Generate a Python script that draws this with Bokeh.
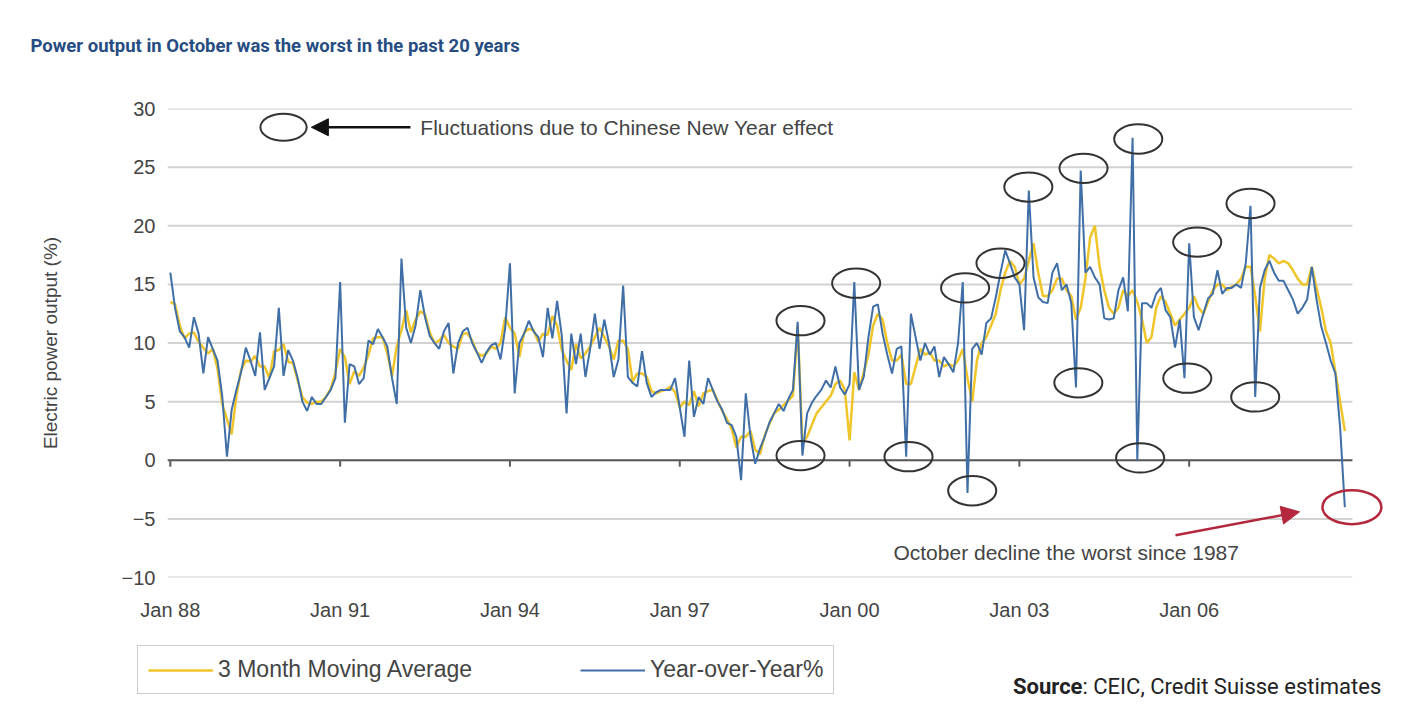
from bokeh.plotting import figure
from bokeh.layouts import column
from bokeh.models import (Range1d, FixedTicker, Legend, LegendItem, Label, Arrow,
                          NormalHead, ColumnDataSource)
from bokeh.embed import file_html
from bokeh.resources import INLINE

# ---------------- data (monthly, Jan 1988 - Oct 2008) ----------------
yoy_1988 = [16.0, 13.0, 11.0, 10.5, 9.6, 12.2, 10.8, 7.4, 10.5, 9.5, 8.5, 5.5]
yoy_1989 = [0.3, 4.3, 6.0, 7.5, 9.6, 8.5, 7.2, 10.9, 6.0, 7.0, 8.0, 13.0]
yoy_1990 = [7.2, 9.4, 8.5, 7.0, 5.0, 4.2, 5.4, 4.8, 4.8, 5.4, 6.0, 7.0]
yoy_1991 = [15.2, 3.2, 8.2, 8.0, 6.5, 7.0, 10.2, 9.9, 11.2, 10.5, 9.7, 7.0]
yoy_1992 = [4.8, 17.2, 11.3, 10.0, 11.5, 14.5, 12.2, 10.6, 10.0, 9.5, 11.0, 11.7]
yoy_1993 = [7.4, 10.0, 11.0, 11.3, 10.0, 9.2, 8.3, 9.2, 9.8, 10.0, 8.6, 11.3]
yoy_1994 = [16.8, 5.7, 10.0, 10.8, 11.9, 11.0, 10.5, 8.8, 13.0, 10.4, 13.6, 10.6]
yoy_1995 = [4.0, 10.8, 8.2, 10.8, 7.1, 9.5, 12.5, 9.5, 12.0, 10.0, 7.1, 8.6]
yoy_1996 = [14.9, 7.1, 6.6, 6.3, 9.3, 6.6, 5.4, 5.8, 6.0, 6.0, 6.0, 7.0]
yoy_1997 = [4.5, 2.0, 8.5, 3.7, 5.4, 4.8, 7.0, 6.0, 5.0, 4.3, 3.2, 3.0]
yoy_1998 = [2.0, -1.7, 5.7, 2.0, -0.3, 1.0, 2.0, 3.2, 4.0, 4.8, 4.2, 5.2]
yoy_1999 = [6.0, 11.8, 0.4, 4.0, 4.9, 5.5, 6.0, 6.8, 6.2, 8.0, 6.2, 5.6]
yoy_2000 = [6.5, 15.2, 6.0, 7.1, 10.5, 13.1, 13.3, 10.8, 9.0, 7.4, 9.5, 9.7]
yoy_2001 = [0.3, 12.5, 10.5, 8.5, 10.0, 9.0, 9.7, 7.1, 8.8, 8.2, 7.5, 10.0]
yoy_2002 = [15.2, -2.8, 9.5, 10.0, 9.0, 11.7, 12.1, 13.9, 16.0, 17.9, 16.8, 15.6]
yoy_2003 = [15.0, 11.1, 23.0, 15.6, 13.9, 13.5, 13.4, 16.0, 16.8, 14.5, 15.0, 13.4]
yoy_2004 = [6.2, 24.7, 16.0, 16.5, 15.6, 15.0, 12.1, 12.0, 12.1, 14.5, 15.6, 12.7]
yoy_2005 = [27.5, 0.0, 13.4, 13.4, 13.0, 14.2, 14.7, 12.8, 12.2, 9.6, 12.0, 7.0]
yoy_2006 = [18.5, 12.2, 11.1, 12.5, 13.8, 14.2, 16.2, 14.2, 14.7, 14.7, 15.0, 14.7]
yoy_2007 = [16.8, 21.7, 5.4, 14.7, 16.2, 17.0, 16.0, 15.3, 15.3, 14.5, 13.7, 12.5]
yoy_2008 = [13.0, 13.7, 16.5, 13.7, 11.4, 10.0, 8.5, 7.4, 2.8, -4.0]

ma_1988 = [13.5, 13.3, 11.5, 10.4, 10.8, 10.9, 10.1, 9.6, 9.1, 9.5, 7.8, 4.8]
ma_1989 = [3.5, 2.2, 5.5, 7.7, 8.5, 8.4, 8.9, 8.0, 8.0, 7.0, 9.3, 9.4]
ma_1990 = [9.9, 8.4, 8.3, 6.8, 5.4, 4.9, 4.8, 5.0, 5.0, 5.4, 6.1, 7.5]
ma_1991 = [9.5, 8.8, 6.5, 7.6, 7.2, 7.9, 9.0, 10.4, 10.5, 10.5, 9.1, 7.2]
ma_1992 = [9.7, 11.1, 12.8, 10.9, 12.0, 12.7, 12.4, 10.9, 10.0, 10.2, 10.7, 10.0]
ma_1993 = [9.7, 9.5, 10.8, 10.8, 10.2, 9.2, 8.9, 9.1, 9.7, 9.5, 10.0, 12.2]
ma_1994 = [11.3, 10.8, 8.8, 10.9, 11.2, 11.1, 10.1, 10.8, 10.7, 12.3, 11.5, 9.4]
ma_1995 = [8.5, 7.7, 9.9, 8.7, 9.1, 9.7, 10.5, 11.3, 10.5, 9.7, 8.6, 10.2]
ma_1996 = [10.2, 9.5, 6.7, 7.4, 7.4, 7.1, 5.9, 5.7, 5.9, 6.0, 6.3, 5.8]
ma_1997 = [4.5, 5.0, 4.7, 5.9, 4.6, 5.7, 5.9, 6.0, 5.1, 4.2, 3.5, 2.7]
ma_1998 = [1.1, 2.0, 2.0, 2.5, 0.9, 0.5, 2.1, 3.1, 4.0, 4.3, 4.7, 5.1]
ma_1999 = [5.5, 11.5, 1.5, 2.0, 3.0, 4.0, 4.5, 5.0, 5.5, 6.5, 6.8, 6.0]
ma_2000 = [1.7, 7.5, 6.0, 7.5, 9.0, 11.5, 12.5, 12.0, 10.0, 8.5, 8.5, 9.0]
ma_2001 = [6.5, 6.5, 8.0, 9.5, 9.0, 9.2, 8.5, 8.5, 8.0, 8.2, 8.0, 8.5]
ma_2002 = [9.5, 7.0, 5.0, 8.5, 10.0, 10.5, 11.5, 12.5, 14.5, 16.0, 17.0, 16.5]
ma_2003 = [15.0, 15.5, 17.0, 18.5, 16.0, 14.0, 14.0, 14.5, 15.5, 15.5, 14.5, 14.0]
ma_2004 = [12.0, 13.0, 15.5, 19.0, 20.0, 16.5, 14.5, 13.0, 12.5, 13.0, 14.5, 14.0]
ma_2005 = [14.5, 13.5, 12.0, 10.0, 10.5, 13.0, 14.0, 13.5, 12.5, 11.5, 12.0, 12.5]
ma_2006 = [13.0, 14.0, 13.0, 12.5, 13.5, 14.5, 15.0, 15.0, 14.5, 14.8, 15.0, 15.5]
ma_2007 = [16.5, 16.5, 14.0, 11.0, 15.5, 17.5, 17.2, 16.8, 17.0, 16.8, 16.2, 15.5]
ma_2008 = [15.0, 15.0, 16.5, 14.7, 13.0, 11.0, 10.0, 7.5, 5.0, 2.5]

tick_labels = ["Jan 88", "Jan 91", "Jan 94", "Jan 97", "Jan 00", "Jan 03", "Jan 06"]
y_ticks = [-10, -5, 0, 5, 10, 15, 20, 25, 30]

# circled Chinese New Year fluctuations (month index, value)
circle_month = [133.6, 133.6, 145.4, 156.5, 168.5, 170.0, 176.0, 181.9,
                193.6, 192.5, 205.2, 205.6, 217.7, 215.6, 229.0, 230.0]
circle_value = [11.9, 0.4, 15.1, 0.3, 14.7, -2.6, 16.8, 23.3,
                24.9, 6.6, 27.4, 0.2, 18.6, 7.0, 21.9, 5.4]

yoy = (yoy_1988 + yoy_1989 + yoy_1990 + yoy_1991 + yoy_1992 + yoy_1993 + yoy_1994 +
       yoy_1995 + yoy_1996 + yoy_1997 + yoy_1998 + yoy_1999 + yoy_2000 + yoy_2001 +
       yoy_2002 + yoy_2003 + yoy_2004 + yoy_2005 + yoy_2006 + yoy_2007 + yoy_2008)
ma3 = (ma_1988 + ma_1989 + ma_1990 + ma_1991 + ma_1992 + ma_1993 + ma_1994 +
       ma_1995 + ma_1996 + ma_1997 + ma_1998 + ma_1999 + ma_2000 + ma_2001 +
       ma_2002 + ma_2003 + ma_2004 + ma_2005 + ma_2006 + ma_2007 + ma_2008)
months = list(range(len(yoy)))
tick_months = [36 * i for i in range(len(tick_labels))]

# ---------------- styling ----------------
FONT = "Liberation Sans"
TFONT = "Roboto"
TXT = "#444444"
YELLOW = "#efc52a"
BLUE = "#3f6fa6"
W = 1406


def strip(fig):
    fig.outline_line_color = None
    fig.xgrid.visible = False
    fig.ygrid.visible = False
    fig.border_fill_color = "white"
    fig.background_fill_color = "white"
    fig.frame_align = False
    return fig


# ---------------- title strip ----------------
t = strip(figure(width=W, height=70, output_backend="svg", toolbar_location=None,
                 x_range=Range1d(0, W), y_range=Range1d(0, 70),
                 x_axis_location=None, y_axis_location=None, min_border=0))
t.add_layout(Label(x=30, y=25, text="Power output in October was the worst in the past 20 years",
                   text_font=TFONT, text_font_size="18.5px", text_font_style="bold",
                   text_color="#264d82", text_baseline="middle", text_align="left"))

# ---------------- main chart ----------------
x_lo, x_hi = -0.6, 260.8
grid_lo, grid_hi = -0.6, 250.6

p = strip(figure(width=W, height=575, output_backend="svg", toolbar_location=None,
                 x_range=Range1d(x_lo, x_hi), y_range=Range1d(-10, 30),
                 min_border_left=167, min_border_right=6, min_border_top=38,
                 min_border_bottom=68))

# horizontal grid lines (limited to the data period)
p.segment(x0=[grid_lo] * len(y_ticks), x1=[grid_hi] * len(y_ticks), y0=y_ticks, y1=y_ticks,
          line_color="#d2d2d2", line_width=2)
p.segment(x0=[grid_lo], x1=[grid_hi], y0=[0], y1=[0], line_color="#5a5a5a", line_width=2)
p.segment(x0=tick_months, x1=tick_months, y0=[0] * len(tick_months),
          y1=[-0.55] * len(tick_months), line_color="#5a5a5a", line_width=2)

src = ColumnDataSource(dict(m=months, yoy=yoy, ma=ma3))
p.line("m", "ma", source=src, line_color=YELLOW, line_width=2.5)
p.line("m", "yoy", source=src, line_color=BLUE, line_width=2)

# ellipses
p.ellipse(x=circle_month, y=circle_value, width=10.2, height=2.5,
          fill_color=None, line_color="#333333", line_width=2)
p.ellipse(x=[24.0], y=[28.4], width=9.8, height=2.3,
          fill_color=None, line_color="#333333", line_width=2)
p.ellipse(x=[250.5], y=[-4.0], width=12.5, height=2.9,
          fill_color=None, line_color="#b3283c", line_width=2.5)

# arrows
p.add_layout(Arrow(end=NormalHead(size=17, fill_color="#111111", line_color="#111111"),
                   x_start=50.9, y_start=28.4, x_end=29.9, y_end=28.4,
                   line_color="#111111", line_width=2.5))
p.add_layout(Arrow(end=NormalHead(size=18, fill_color="#b3283c", line_color="#b3283c"),
                   x_start=213.1, y_start=-6.4, x_end=239.4, y_end=-4.4,
                   line_color="#b3283c", line_width=2.5))

# annotation texts
p.add_layout(Label(x=53.0, y=28.4, text="Fluctuations due to Chinese New Year effect",
                   text_font=FONT, text_font_size="21px", text_color=TXT,
                   text_baseline="middle", text_align="left"))
p.add_layout(Label(x=153.3, y=-7.9, text="October decline the worst since 1987",
                   text_font=FONT, text_font_size="21px", text_color=TXT,
                   text_baseline="middle", text_align="left"))

# axes
p.xaxis.ticker = FixedTicker(ticks=tick_months)
p.xaxis.major_label_overrides = {m: lab for m, lab in zip(tick_months, tick_labels)}
p.xaxis.axis_line_color = None
p.xaxis.major_tick_line_color = None
p.xaxis.minor_tick_line_color = None
p.xaxis.major_label_standoff = 15
p.xaxis.major_label_text_font = FONT
p.xaxis.major_label_text_font_size = "20px"
p.xaxis.major_label_text_color = TXT

p.yaxis.ticker = FixedTicker(ticks=y_ticks)
p.yaxis.axis_line_color = None
p.yaxis.major_tick_line_color = None
p.yaxis.minor_tick_line_color = None
p.yaxis.major_label_standoff = 6
p.yaxis.major_label_text_font = FONT
p.yaxis.major_label_text_font_size = "20px"
p.yaxis.major_label_text_color = TXT
p.yaxis.axis_label = "Electric power output (%)"
p.yaxis.axis_label_text_font = FONT
p.yaxis.axis_label_text_font_size = "19px"
p.yaxis.axis_label_text_font_style = "normal"
p.yaxis.axis_label_text_color = TXT
p.yaxis.axis_label_standoff = 58

# ---------------- legend + source strip ----------------
q = strip(figure(width=W, height=72, output_backend="svg", toolbar_location=None,
                 x_range=Range1d(0, W), y_range=Range1d(0, 72),
                 x_axis_location=None, y_axis_location=None, min_border=0))
nan = float("nan")
k_ma = q.line(x=[nan], y=[nan], line_color=YELLOW, line_width=2.5)
k_yoy = q.line(x=[nan], y=[nan], line_color=BLUE, line_width=2)
legend = Legend(items=[LegendItem(label="3 Month Moving Average", renderers=[k_ma]),
                       LegendItem(label="Year-over-Year%", renderers=[k_yoy])],
                orientation="horizontal", location=(137, 23),
                padding=10, spacing=108, glyph_width=65, glyph_height=20,
                label_standoff=5, label_text_font=FONT, label_text_font_size="23px",
                label_text_color=TXT, border_line_color="#9a9a9a", border_line_width=1.5,
                background_fill_color="white", background_fill_alpha=1.0, margin=0)
q.add_layout(legend)
q.add_layout(Label(x=1082, y=31, text="Source", text_font=TFONT, text_font_size="22px",
                   text_font_style="bold", text_color="#222222",
                   text_baseline="middle", text_align="right"))
q.add_layout(Label(x=1082, y=31, text=": CEIC, Credit Suisse estimates", text_font=TFONT,
                   text_font_size="22px", text_color="#222222",
                   text_baseline="middle", text_align="left"))

layout = column(t, p, q, spacing=0)
open("out.html", "w").write(file_html(layout, INLINE))
